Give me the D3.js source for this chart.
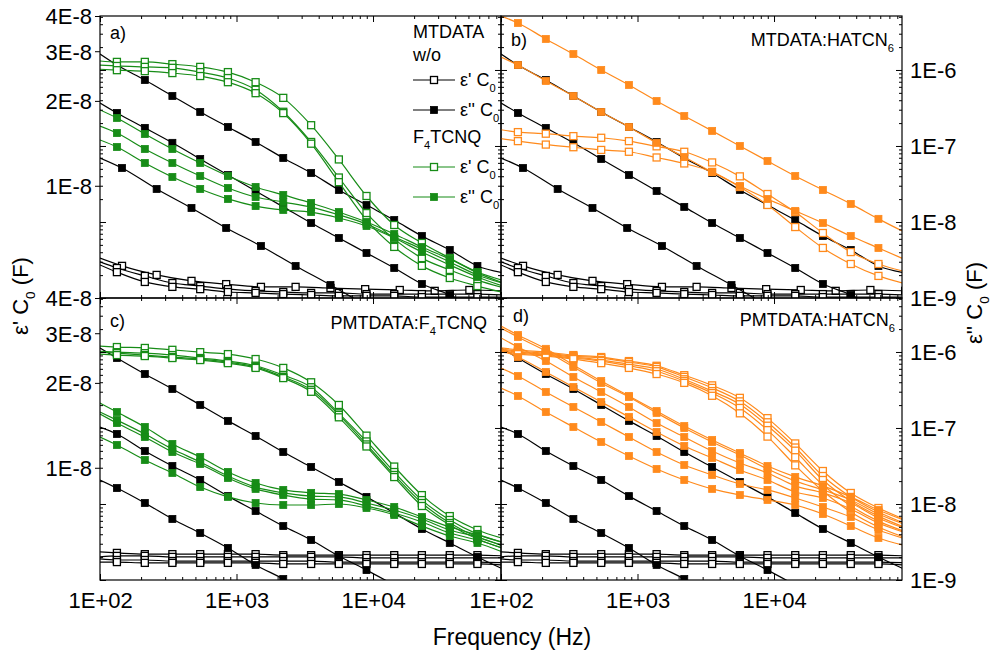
<!DOCTYPE html>
<html>
<head>
<meta charset="utf-8">
<script src="https://cdn.jsdelivr.net/npm/d3@7"></script>
<style>
  body { margin: 0; background: #fff; }
  svg { display: block; }
  text { font-family: "Liberation Sans", Arial, Helvetica, sans-serif; fill: #000; }
</style>
</head>
<body>
<svg id="chart" width="993" height="651"></svg>
<script>
// ---------------------------------------------------------------------------
// Frequencies (Hz). Every trace starts with a value at F_EDGE (left frame edge,
// drawn as line only), followed by one value per marker frequency of its grid.
// ---------------------------------------------------------------------------
const F_EDGE = 100;
const F_MAX = 86600;
const fA = [133, 213, 339, 542, 865, 1380, 2200, 3520, 5620, 8960, 14300, 22800, 36500, 58200, 92900];
const fB = [145, 260, 468, 840, 1510, 2710, 4880, 8760, 15700, 28300, 50800, 91300];

// Axis ticks
const xTicks = [1e2, 1e3, 1e4];
const xTickLabels = ["1E+02", "1E+03", "1E+04"];
const epsTicks = [1e-8, 2e-8, 3e-8, 4e-8];
const epsTickLabels = ["1E-8", "2E-8", "3E-8", "4E-8"];
const lossTicks = [1e-9, 1e-8, 1e-7, 1e-6];
const lossTickLabels = ["1E-9", "1E-8", "1E-7", "1E-6"];

// ---- MTDATA w/o (reference, panels a and b) ----
const mtEps1 = [5.54e-9, 5.2e-9, 4.83e-9, 4.6e-9, 4.48e-9, 4.38e-9, 4.38e-9, 4.34e-9, 4.3e-9, 4.27e-9, 4.24e-9, 4.27e-9, 4.24e-9]; // grid fB
const mtEps2 = [5.37e-9, 5.11e-9, 4.79e-9, 4.52e-9, 4.41e-9, 4.3e-9, 4.24e-9, 4.2e-9, 4.17e-9, 4.17e-9, 4.13e-9, 4.13e-9, 4.13e-9, 4.13e-9, 4.13e-9, 4.1e-9];
const mtEps3 = [5.24e-9, 4.94e-9, 4.56e-9, 4.38e-9, 4.3e-9, 4.2e-9, 4.17e-9, 4.13e-9, 4.1e-9, 4.07e-9, 4.07e-9, 4.07e-9, 4.03e-9, 4.03e-9, 4.03e-9, 4.03e-9];
const mtLoss1 = [1.62e-6, 1.16e-6, 7.38e-7, 4.55e-7, 2.8e-7, 1.78e-7, 1.13e-7, 6.95e-8, 4.41e-8, 2.64e-8, 1.67e-8, 1.06e-8, 6.54e-9, 4.28e-9, 2.64e-9, 2.13e-9];
const mtLoss2 = [3.68e-7, 2.72e-7, 1.73e-7, 1.1e-7, 6.75e-8, 4.15e-8, 2.56e-8, 1.58e-8, 9.7e-9, 6.16e-9, 3.91e-9, 2.48e-9, 1.53e-9, 1.1e-9, 6.95e-10, 5.6e-10];
const mtLoss3 = [6.95e-8, 5.13e-8, 2.72e-8, 1.53e-8, 8.34e-9, 4.83e-9, 2.64e-9, 1.48e-9, 8.1e-10, null, null, null, null]; // grid fB

// ---- MTDATA:F4TCNQ (panel a) ----
const mtF4Eps1 = [2.77e-8, 2.75e-8, 2.75e-8, 2.7e-8, 2.64e-8, 2.53e-8, 2.33e-8, 2.05e-8, 1.64e-8, 1.24e-8, 9.2e-9, 7.26e-9, 6.27e-9, 5.54e-9, 4.91e-9, 4.5e-9];
const mtF4Eps2 = [2.68e-8, 2.66e-8, 2.64e-8, 2.62e-8, 2.53e-8, 2.41e-8, 2.19e-8, 1.83e-8, 1.43e-8, 1.07e-8, 8.0e-9, 6.47e-9, 5.54e-9, 5.03e-9, 4.63e-9, 4.33e-9];
const mtF4Eps3 = [2.59e-8, 2.57e-8, 2.55e-8, 2.51e-8, 2.45e-8, 2.33e-8, 2.13e-8, 1.81e-8, 1.41e-8, 1.03e-8, 7.56e-9, 6.07e-9, 5.2e-9, 4.71e-9, 4.41e-9, 4.17e-9];
const mtF4Loss1 = [2.98e-7, 2.34e-7, 1.44e-7, 9.13e-8, 5.98e-8, 4.03e-8, 2.89e-8, 2.27e-8, 1.78e-8, 1.35e-8, 1.0e-8, 6.95e-9, 4.69e-9, 3.26e-9, 2.2e-9, 1.67e-9];
const mtF4Loss2 = [1.83e-7, 1.48e-7, 9.13e-8, 5.98e-8, 4.03e-8, 2.8e-8, 2.13e-8, 1.83e-8, 1.57e-8, 1.24e-8, 9.41e-9, 6.35e-9, 4.41e-9, 2.98e-9, 2.01e-9, 1.53e-9];
const mtF4Loss3 = [1.2e-7, 9.7e-8, 5.98e-8, 3.91e-8, 2.72e-8, 2.01e-8, 1.62e-8, 1.44e-8, 1.35e-8, 1.13e-8, 8.86e-9, 6.16e-9, 4.03e-9, 2.72e-9, 1.89e-9, 1.4e-9];

// ---- MTDATA:HATCN6 (panel b) ----
const mtHatEps1 = [1.58e-8, 1.55e-8, 1.53e-8, 1.5e-8, 1.48e-8, 1.44e-8, 1.38e-8, 1.32e-8, 1.21e-8, 1.08e-8, 9.35e-9, 8.07e-9, 6.8e-9, 5.82e-9, 5.28e-9, 4.95e-9];
const mtHatEps2 = [1.47e-8, 1.44e-8, 1.4e-8, 1.37e-8, 1.34e-8, 1.32e-8, 1.26e-8, 1.2e-8, 1.12e-8, 9.9e-9, 8.55e-9, 7.14e-9, 6.02e-9, 5.28e-9, 4.79e-9, 4.49e-9];
const mtHatLoss1 = [5.13e-6, 4.15e-6, 2.56e-6, 1.62e-6, 1.0e-6, 6.35e-7, 3.91e-7, 2.48e-7, 1.58e-7, 1.0e-7, 6.35e-8, 4.03e-8, 2.64e-8, 1.73e-8, 1.1e-8, 7.17e-9];
const mtHatLoss2 = [1.48e-6, 1.16e-6, 7.16e-7, 4.55e-7, 2.8e-7, 1.78e-7, 1.1e-7, 7.17e-8, 4.55e-8, 2.98e-8, 2.01e-8, 1.4e-8, 9.7e-9, 6.54e-9, 4.55e-9, 3.16e-9];

// ---- PMTDATA w/o (reference, panels c and d) ----
const pmEps1 = [5.03e-9, 4.99e-9, 4.94e-9, 4.94e-9, 4.94e-9, 4.94e-9, 4.94e-9, 4.9e-9, 4.9e-9, 4.9e-9, 4.9e-9, 4.9e-9, 4.9e-9, 4.9e-9, 4.9e-9, 4.87e-9];
const pmEps2 = [4.83e-9, 4.87e-9, 4.87e-9, 4.83e-9, 4.83e-9, 4.83e-9, 4.83e-9, 4.83e-9, 4.83e-9, 4.83e-9, 4.79e-9, 4.79e-9, 4.79e-9, 4.79e-9, 4.79e-9, 4.79e-9];
const pmEps3 = [4.75e-9, 4.71e-9, 4.71e-9, 4.67e-9, 4.67e-9, 4.67e-9, 4.67e-9, 4.67e-9, 4.67e-9, 4.63e-9, 4.63e-9, 4.63e-9, 4.63e-9, 4.63e-9, 4.63e-9, 4.6e-9];
const pmEps4 = [4.63e-9, 4.63e-9, 4.6e-9, 4.6e-9, 4.6e-9, 4.6e-9, 4.6e-9, 4.56e-9, 4.56e-9, 4.56e-9, 4.56e-9, 4.56e-9, 4.56e-9, 4.56e-9, 4.56e-9, 4.52e-9];
const pmLoss1 = [1.13e-6, 8.34e-7, 5.13e-7, 3.26e-7, 2.01e-7, 1.24e-7, 7.85e-8, 4.83e-8, 3.07e-8, 1.95e-8, 1.24e-8, 7.61e-9, 4.69e-9, 3.07e-9, 2.01e-9, 1.35e-9];
const pmLoss2 = [1.03e-7, 8.34e-8, 4.98e-8, 3.16e-8, 2.07e-8, 1.27e-8, 8.09e-9, 5.13e-9, 3.36e-9, 2.07e-9, 1.35e-9, 8.6e-10, null, null, null, null];
const pmLoss3 = [2.07e-8, 1.62e-8, 1.03e-8, 6.35e-9, 4.15e-9, 2.64e-9, 1.58e-9, 1.03e-9, 6.3e-10, null, null, null, null, null, null, null];

// ---- PMTDATA:F4TCNQ (panel c) ----
const pmF4Eps1 = [2.7e-8, 2.68e-8, 2.66e-8, 2.62e-8, 2.57e-8, 2.53e-8, 2.43e-8, 2.26e-8, 2.01e-8, 1.67e-8, 1.3e-8, 1.01e-8, 8.0e-9, 6.74e-9, 6.02e-9, 5.59e-9];
const pmF4Eps2 = [2.59e-8, 2.57e-8, 2.55e-8, 2.51e-8, 2.45e-8, 2.39e-8, 2.3e-8, 2.13e-8, 1.93e-8, 1.56e-8, 1.24e-8, 9.66e-9, 7.68e-9, 6.53e-9, 5.82e-9, 5.41e-9];
const pmF4Eps3 = [2.57e-8, 2.55e-8, 2.51e-8, 2.47e-8, 2.43e-8, 2.37e-8, 2.28e-8, 2.1e-8, 1.89e-8, 1.54e-8, 1.21e-8, 9.43e-9, 7.5e-9, 6.37e-9, 5.68e-9, 5.28e-9];
const pmF4Eps4 = [2.53e-8, 2.51e-8, 2.49e-8, 2.45e-8, 2.41e-8, 2.35e-8, 2.26e-8, 2.08e-8, 1.86e-8, 1.51e-8, 1.19e-8, 9.27e-9, 7.32e-9, 6.27e-9, 5.59e-9, 5.15e-9];
const pmF4Loss1 = [2.13e-7, 1.62e-7, 1.03e-7, 6.16e-8, 4.15e-8, 2.64e-8, 1.89e-8, 1.53e-8, 1.4e-8, 1.35e-8, 1.13e-8, 9.13e-9, 6.75e-9, 4.98e-9, 3.91e-9, 3.07e-9];
const pmF4Loss2 = [1.62e-7, 1.27e-7, 8.34e-8, 5.29e-8, 3.57e-8, 2.34e-8, 1.67e-8, 1.4e-8, 1.27e-8, 1.24e-8, 1.03e-8, 8.34e-9, 6.35e-9, 4.55e-9, 3.68e-9, 2.72e-9];
const pmF4Loss3 = [1.53e-7, 1.16e-7, 7.61e-8, 4.83e-8, 3.36e-8, 2.2e-8, 1.58e-8, 1.31e-8, 1.16e-8, 1.13e-8, 9.41e-9, 7.61e-9, 5.8e-9, 4.15e-9, 3.36e-9, 2.56e-9];
const pmF4Loss4 = [7.61e-8, 5.98e-8, 3.79e-8, 2.56e-8, 1.67e-8, 1.24e-8, 1.03e-8, 9.7e-9, 9.7e-9, 1.0e-8, 8.86e-9, 7.17e-9, 5.13e-9, 3.79e-9, 3.07e-9, 2.27e-9];

// ---- PMTDATA:HATCN6 (panel d) ----
const pmHatEps1 = [2.66e-8, 2.62e-8, 2.57e-8, 2.51e-8, 2.47e-8, 2.39e-8, 2.3e-8, 2.13e-8, 1.96e-8, 1.77e-8, 1.5e-8, 1.22e-8, 9.74e-9, 8.14e-9, 7.2e-9, 6.53e-9];
const pmHatEps2 = [2.64e-8, 2.59e-8, 2.55e-8, 2.49e-8, 2.45e-8, 2.37e-8, 2.28e-8, 2.1e-8, 1.92e-8, 1.72e-8, 1.45e-8, 1.18e-8, 9.35e-9, 7.88e-9, 6.97e-9, 6.32e-9];
const pmHatEps3 = [2.62e-8, 2.57e-8, 2.53e-8, 2.47e-8, 2.41e-8, 2.33e-8, 2.24e-8, 2.06e-8, 1.87e-8, 1.68e-8, 1.41e-8, 1.15e-8, 9.05e-9, 7.62e-9, 6.74e-9, 6.12e-9];
const pmHatEps4 = [2.59e-8, 2.55e-8, 2.51e-8, 2.45e-8, 2.39e-8, 2.3e-8, 2.2e-8, 2.03e-8, 1.84e-8, 1.63e-8, 1.36e-8, 1.09e-8, 8.69e-9, 7.32e-9, 6.47e-9, 5.92e-9];
const pmHatEps5 = [2.57e-8, 2.53e-8, 2.49e-8, 2.43e-8, 2.35e-8, 2.26e-8, 2.15e-8, 2.0e-8, 1.8e-8, 1.56e-8, 1.29e-8, 1.02e-8, 8.27e-9, 6.97e-9, 6.17e-9, 5.64e-9];
const pmHatLoss1 = [2.2e-6, 1.67e-6, 1.1e-6, 6.75e-7, 4.15e-7, 2.64e-7, 1.67e-7, 1.06e-7, 6.95e-8, 4.69e-8, 3.16e-8, 2.27e-8, 1.73e-8, 1.24e-8, 8.34e-9, 5.98e-9];
const pmHatLoss2 = [2.07e-6, 1.57e-6, 1.03e-6, 6.35e-7, 3.91e-7, 2.56e-7, 1.58e-7, 1.0e-7, 6.54e-8, 4.41e-8, 2.89e-8, 2.01e-8, 1.53e-8, 1.13e-8, 7.38e-9, 5.29e-9];
const pmHatLoss3 = [1.53e-6, 1.16e-6, 7.61e-7, 4.69e-7, 2.98e-7, 1.89e-7, 1.16e-7, 7.61e-8, 4.98e-8, 3.46e-8, 2.56e-8, 1.73e-8, 1.4e-8, 1.03e-8, 6.54e-9, 4.69e-9];
const pmHatLoss4 = [1.06e-6, 8.59e-7, 5.45e-7, 3.46e-7, 2.2e-7, 1.4e-7, 8.86e-8, 5.8e-8, 4.03e-8, 2.8e-8, 2.07e-8, 1.44e-8, 1.2e-8, 8.59e-9, 5.62e-9, 4.15e-9];
const pmHatLoss5 = [6.15e-7, 4.83e-7, 2.98e-7, 1.89e-7, 1.2e-7, 7.61e-8, 4.83e-8, 3.26e-8, 2.41e-8, 1.83e-8, 1.53e-8, 1.2e-8, 9.13e-9, 6.75e-9, 4.55e-9, 3.46e-9];
const pmHatLoss6 = [3.36e-7, 2.64e-7, 1.62e-7, 1.03e-7, 6.54e-8, 4.28e-8, 2.89e-8, 2.07e-8, 1.58e-8, 1.31e-8, 1.13e-8, 9.7e-9, 7.38e-9, 5.13e-9, 3.57e-9, 2.8e-9];

// ---------------------------------------------------------------------------
const BLACK = "#000000", GREEN = "#178c17", ORANGE = "#ff8a1c";
const EPS_DOMAIN = [4e-9, 4e-8];
const LOSS_DOMAIN = [1e-9, 5.13e-6];
const FONT_TICK = 22, FONT_SMALL = 18;
const MARK = 7;

const S = (values, grid, axis, color, open) => ({ values, grid, axis, color, open });

const refMT = [
  S(mtEps1, fB, "eps", BLACK, true), S(mtEps2, fA, "eps", BLACK, true), S(mtEps3, fA, "eps", BLACK, true),
  S(mtLoss1, fA, "loss", BLACK, false), S(mtLoss2, fA, "loss", BLACK, false), S(mtLoss3, fB, "loss", BLACK, false)
];
const refPM = [
  S(pmEps1, fA, "eps", BLACK, true), S(pmEps2, fA, "eps", BLACK, true),
  S(pmEps3, fA, "eps", BLACK, true), S(pmEps4, fA, "eps", BLACK, true),
  S(pmLoss1, fA, "loss", BLACK, false), S(pmLoss2, fA, "loss", BLACK, false), S(pmLoss3, fA, "loss", BLACK, false)
];

const panels = [
  { col: 0, row: 0, tag: "a)", tagAt: [110, 33], name: null,
    series: [...refMT,
      S(mtF4Eps1, fA, "eps", GREEN, true), S(mtF4Eps2, fA, "eps", GREEN, true), S(mtF4Eps3, fA, "eps", GREEN, true),
      S(mtF4Loss1, fA, "loss", GREEN, false), S(mtF4Loss2, fA, "loss", GREEN, false), S(mtF4Loss3, fA, "loss", GREEN, false)] },
  { col: 1, row: 0, tag: "b)", tagAt: [511, 40], name: [["MTDATA:HATCN", 0], ["6", 1]], nameAt: [894, 40],
    series: [...refMT,
      S(mtHatEps1, fA, "eps", ORANGE, true), S(mtHatEps2, fA, "eps", ORANGE, true),
      S(mtHatLoss1, fA, "loss", ORANGE, false), S(mtHatLoss2, fA, "loss", ORANGE, false)] },
  { col: 0, row: 1, tag: "c)", tagAt: [110, 321], name: [["PMTDATA:F", 0], ["4", 1], ["TCNQ", 0]], nameAt: [487, 323],
    series: [...refPM,
      S(pmF4Eps1, fA, "eps", GREEN, true), S(pmF4Eps2, fA, "eps", GREEN, true),
      S(pmF4Eps3, fA, "eps", GREEN, true), S(pmF4Eps4, fA, "eps", GREEN, true),
      S(pmF4Loss1, fA, "loss", GREEN, false), S(pmF4Loss2, fA, "loss", GREEN, false),
      S(pmF4Loss3, fA, "loss", GREEN, false), S(pmF4Loss4, fA, "loss", GREEN, false)] },
  { col: 1, row: 1, tag: "d)", tagAt: [513, 316], name: [["PMTDATA:HATCN", 0], ["6", 1]], nameAt: [895, 320],
    series: [...refPM,
      S(pmHatEps1, fA, "eps", ORANGE, true), S(pmHatEps2, fA, "eps", ORANGE, true), S(pmHatEps3, fA, "eps", ORANGE, true),
      S(pmHatEps4, fA, "eps", ORANGE, true), S(pmHatEps5, fA, "eps", ORANGE, true),
      S(pmHatLoss1, fA, "loss", ORANGE, false), S(pmHatLoss2, fA, "loss", ORANGE, false), S(pmHatLoss3, fA, "loss", ORANGE, false),
      S(pmHatLoss4, fA, "loss", ORANGE, false), S(pmHatLoss5, fA, "loss", ORANGE, false), S(pmHatLoss6, fA, "loss", ORANGE, false)] }
];

const COLS = [[100, 501], [501, 902]];
const ROWS = [[16, 298], [298, 580]];

const svg = d3.select("#chart");
svg.append("rect").attr("width", 993).attr("height", 651).attr("fill", "#fff");

// text with optional subscript parts: [[string, isSub], ...]
function richText(sel, parts, size) {
  let shifted = false;
  parts.forEach(([str, sub]) => {
    const t = sel.append("tspan").text(str);
    if (sub && !shifted) { t.attr("font-size", size * 0.62).attr("dy", size * 0.32); shifted = true; }
    else if (!sub && shifted) { t.attr("font-size", size).attr("dy", -size * 0.32); shifted = false; }
    else t.attr("font-size", sub ? size * 0.62 : size);
  });
  return sel;
}

function decadeMinor(lo, hi) {
  const out = [];
  for (let e = Math.floor(Math.log10(lo)); e <= Math.ceil(Math.log10(hi)); e++)
    for (let k = 2; k <= 9; k++) { const v = k * Math.pow(10, e); if (v > lo && v < hi) out.push(v); }
  return out;
}
const xMinor = decadeMinor(F_EDGE, F_MAX);
const lossMajor = [1e-9, 1e-8, 1e-7, 1e-6];
const lossMinor = decadeMinor(LOSS_DOMAIN[0], LOSS_DOMAIN[1]);

function drawTicks(g, axisGen, transform) {
  const a = g.append("g").attr("transform", transform).call(axisGen);
  a.select(".domain").remove();
  a.selectAll("text").remove();
  a.selectAll("line").attr("stroke", "#000").attr("stroke-width", 1);
}

function symbol(g, cx, cy, color, open) {
  g.append("rect")
    .attr("x", cx - MARK / 2).attr("y", cy - MARK / 2)
    .attr("width", MARK).attr("height", MARK)
    .attr("fill", open ? "#fff" : color)
    .attr("stroke", color).attr("stroke-width", open ? 1.3 : 0.8);
}

panels.forEach((p, pi) => {
  const [x0, x1] = COLS[p.col];
  const [y0, y1] = ROWS[p.row];
  const x = d3.scaleLog().domain([F_EDGE, F_MAX]).range([x0, x1]);
  const yEps = d3.scaleLog().domain(EPS_DOMAIN).range([y1, y0]);
  const yLoss = d3.scaleLog().domain(LOSS_DOMAIN).range([y1, y0]);

  const clipId = "clip" + pi;
  svg.append("clipPath").attr("id", clipId)
    .append("rect").attr("x", x0).attr("y", y0).attr("width", x1 - x0).attr("height", y1 - y0);

  const g = svg.append("g");
  const plot = g.append("g").attr("clip-path", `url(#${clipId})`);

  const line = d3.line()
    .defined(d => d[1] != null)
    .x(d => x(d[0]))
    .curve(d3.curveMonotoneX);

  p.series.forEach(s => {
    const y = s.axis === "eps" ? yEps : yLoss;
    const pts = [[F_EDGE, s.values[0]], ...s.grid.map((f, i) => [f, s.values[i + 1]])];
    plot.append("path")
      .attr("d", line.y(d => y(d[1]))(pts))
      .attr("fill", "none").attr("stroke", s.color).attr("stroke-width", 1.2);
    pts.slice(1).filter(d => d[1] != null)
      .forEach(d => symbol(plot, x(d[0]), y(d[1]), s.color, s.open));
  });

  // inward ticks on all four sides
  drawTicks(g, d3.axisTop(x).tickValues(xTicks).tickSize(-6), `translate(0,${y0})`);
  drawTicks(g, d3.axisTop(x).tickValues(xMinor).tickSize(-3), `translate(0,${y0})`);
  drawTicks(g, d3.axisBottom(x).tickValues(xTicks).tickSize(-6), `translate(0,${y1})`);
  drawTicks(g, d3.axisBottom(x).tickValues(xMinor).tickSize(-3), `translate(0,${y1})`);
  drawTicks(g, d3.axisLeft(yLoss).tickValues(lossMajor).tickSize(-6), `translate(${x0},0)`);
  drawTicks(g, d3.axisLeft(yLoss).tickValues(lossMinor).tickSize(-3), `translate(${x0},0)`);
  drawTicks(g, d3.axisRight(yLoss).tickValues(lossMajor).tickSize(-6), `translate(${x1},0)`);
  drawTicks(g, d3.axisRight(yLoss).tickValues(lossMinor).tickSize(-3), `translate(${x1},0)`);

  // frame
  g.append("rect").attr("x", x0).attr("y", y0).attr("width", x1 - x0).attr("height", y1 - y0)
    .attr("fill", "none").attr("stroke", "#000").attr("stroke-width", 1.2);

  // labelled axes
  if (p.col === 0) {
    const ax = g.append("g").attr("transform", `translate(${x0},0)`)
      .call(d3.axisLeft(yEps).tickValues(epsTicks).tickFormat((d, i) => epsTickLabels[i]).tickSize(5).tickPadding(3));
    ax.select(".domain").remove();
    ax.selectAll("line").attr("stroke", "#000");
    ax.selectAll("text").attr("font-size", FONT_TICK).attr("font-family", null).attr("dy", "0.36em");
  } else {
    const ax = g.append("g").attr("transform", `translate(${x1},0)`)
      .call(d3.axisRight(yLoss).tickValues(lossTicks).tickFormat((d, i) => lossTickLabels[i]).tickSize(0).tickPadding(8));
    ax.select(".domain").remove();
    ax.selectAll("text").attr("font-size", FONT_TICK).attr("font-family", null).attr("dy", "0.36em");
  }
  if (p.row === 1) {
    const ax = g.append("g").attr("transform", `translate(0,${y1})`)
      .call(d3.axisBottom(x).tickValues(xTicks).tickFormat((d, i) => xTickLabels[i]).tickSize(0).tickPadding(12));
    ax.select(".domain").remove();
    ax.selectAll("text").attr("font-size", FONT_TICK).attr("font-family", null);
  }

  // panel tag and sample name
  g.append("text").attr("x", p.tagAt[0]).attr("y", p.tagAt[1]).attr("dy", "0.36em")
    .attr("font-size", FONT_SMALL).text(p.tag);
  if (p.name) {
    const t = g.append("text").attr("x", p.nameAt[0]).attr("y", p.nameAt[1]).attr("dy", "0.36em")
      .attr("text-anchor", "end");
    richText(t, p.name, FONT_SMALL);
  }
});

// legend (panel a)
const leg = svg.append("g");
leg.append("text").attr("x", 413).attr("y", 32).attr("dy", "0.36em").attr("font-size", FONT_SMALL).text("MTDATA");
leg.append("text").attr("x", 413).attr("y", 55).attr("dy", "0.36em").attr("font-size", FONT_SMALL).text("w/o");
richText(leg.append("text").attr("x", 413).attr("y", 137).attr("dy", "0.36em"),
  [["F", 0], ["4", 1], ["TCNQ", 0]], FONT_SMALL);
const legendRows = [
  { y: 80, color: BLACK, open: true, label: "ε' C" },
  { y: 110, color: BLACK, open: false, label: "ε'' C" },
  { y: 167, color: GREEN, open: true, label: "ε' C" },
  { y: 197, color: GREEN, open: false, label: "ε'' C" }
];
legendRows.forEach(r => {
  leg.append("line").attr("x1", 413).attr("x2", 455).attr("y1", r.y).attr("y2", r.y)
    .attr("stroke", r.color).attr("stroke-width", 1.2);
  symbol(leg, 434, r.y, r.color, r.open);
  richText(leg.append("text").attr("x", 460).attr("y", r.y).attr("dy", "0.36em"),
    [[r.label, 0], ["0", 1]], FONT_SMALL);
});

// axis titles
svg.append("text").attr("x", 512).attr("y", 645).attr("text-anchor", "middle")
  .attr("font-size", 23).text("Frequency (Hz)");
richText(svg.append("text").attr("transform", "translate(28,296) rotate(-90)").attr("text-anchor", "middle"),
  [["ε' C", 0], ["0", 1], [" (F)", 0]], 22);
richText(svg.append("text").attr("transform", "translate(982,303) rotate(-90)").attr("text-anchor", "middle"),
  [["ε'' C", 0], ["0", 1], [" (F)", 0]], 22);
</script>
</body>
</html>
